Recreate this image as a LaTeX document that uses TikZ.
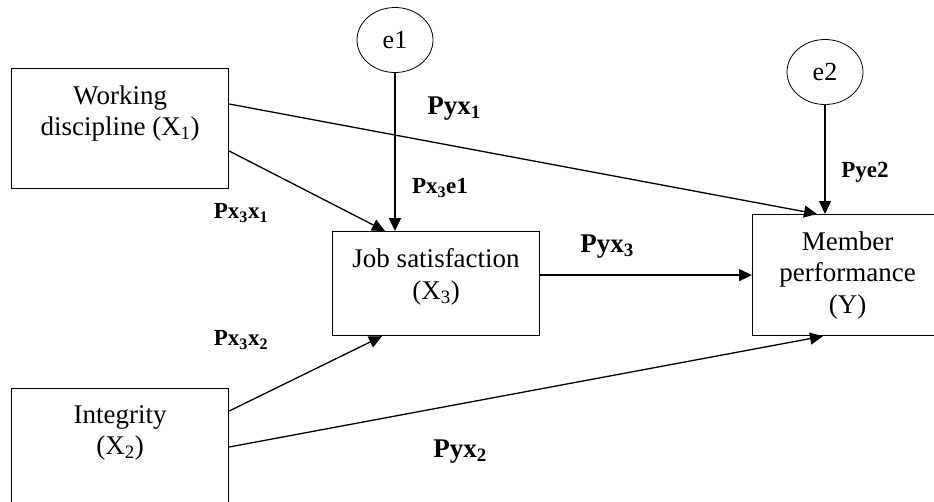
\documentclass[tikz,border=0pt]{standalone}
\usepackage{fontspec}
\setmainfont{Liberation Serif}
\usetikzlibrary{arrows.meta,shapes.geometric}

\newcommand{\boxtext}[3]{\parbox[t][#1][t]{#2}{\centering\vspace*{17pt}#3}}
\tikzset{
  varbox/.style={draw, rectangle, line width=1.2pt, inner sep=0pt, anchor=north west,
    font=\fontsize{27}{31.5}\selectfont},
  errnode/.style={draw, ellipse, line width=0.8pt, inner sep=0pt, minimum width=76pt,
    minimum height=65pt, font=\fontsize{26}{30}\selectfont},
  pathline/.style={-{Triangle[length=13pt,width=12pt]}, line width=1.3pt},
  coef/.style={font=\fontsize{27}{30}\selectfont\bfseries},
  coefsmall/.style={font=\fontsize{23}{26}\selectfont\bfseries}
}

\begin{document}
\begin{tikzpicture}[x=1pt,y=-1pt]
    \useasboundingbox (0,0) rectangle (934,501);
    \clip (0,0) rectangle (934,501);
    % variables
    \node[varbox] (wd) at (11,68) {\boxtext{120pt}{217pt}{Working\\ discipline (X\textsubscript{1})}};
    \node[varbox] (int) at (11,388) {\boxtext{130pt}{217pt}{Integrity\\ (X\textsubscript{2})}};
    \node[varbox] (js) at (332,231) {\boxtext{104pt}{207pt}{Job satisfaction\\ (X\textsubscript{3})}};
    \node[varbox] (mp) at (752,214) {\boxtext{121pt}{190pt}{Member\\ performance\\ (Y)}};
    % error terms
    \node[errnode] (e1) at (395,40) {e1};
    \node[errnode] (e2) at (825,72) {e2};
    % paths
    \draw[pathline] ([yshift=-36pt]wd.north east) -- ([xshift=65pt]mp.north west);
    \draw[pathline] ([yshift=-83pt]wd.north east) -- ([xshift=53pt]js.north west);
    \draw[pathline] (e1.south) -- (e1.south |- js.north);
    \draw[pathline] (e2.south) -- (e2.south |- mp.north);
    \draw[pathline] (js.east |- mp.west) -- (mp.west);
    \draw[pathline] ([yshift=-23pt]int.north east) -- ([xshift=50pt]js.south west);
    \draw[pathline] ([yshift=-59pt]int.north east) -- ([xshift=71pt]mp.south west);
    % coefficients
    \node[coef] (lyx1) at (454,109) {Pyx\textsubscript{1}};
    \node[coefsmall] (lx3e1) at (440,188) {Px\textsubscript{3}e1};
    \node[coefsmall] (lx3x1) at (241,213) {Px\textsubscript{3}x\textsubscript{1}};
    \node[coefsmall] (lx3x2) at (241,340) {Px\textsubscript{3}x\textsubscript{2}};
    \node[coef] (lyx3) at (607,247) {Pyx\textsubscript{3}};
    \node[coef] (lyx2) at (460,452) {Pyx\textsubscript{2}};
    \node[coefsmall] (lye2) at (865,172) {Pye2};
\end{tikzpicture}
\end{document}
